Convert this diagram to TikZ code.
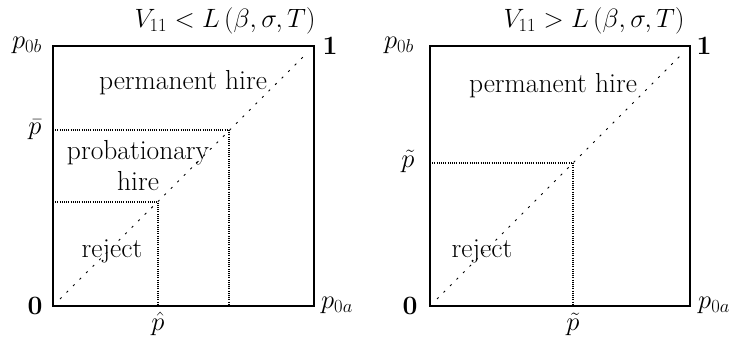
\documentclass[tikz,border=0pt]{standalone}
\usepackage{amsmath}
\usepackage{fix-cm}
\begin{document}
\begin{tikzpicture}[x=1pt,y=-1pt,
  lbl/.style={inner sep=0pt,font=\fontsize{26.5}{31}\selectfont},
  region/.style={inner sep=0pt,align=center,font=\fontsize{27.5}{31}\selectfont},
  frame/.style={line width=1.6pt},
  thr/.style={line width=1.6pt,dash pattern=on 1pt off 1.2pt},
  diag/.style={line width=0.9pt,dash pattern=on 2.2pt off 7pt}]
\useasboundingbox (0,0) rectangle (730,339);
% ---------- left panel ----------
\coordinate (LBL) at (53,306);
\coordinate (LTR) at (314,46);
\coordinate (LD0) at (60,299);
\coordinate (LD1) at (307,53);
\coordinate (Lbar) at (53,130);
\coordinate (Lbarc) at (229,130);
\coordinate (Lbarb) at (229,306);
\coordinate (Lhat) at (53,202);
\coordinate (Lhatc) at (158,202);
\coordinate (Lhatb) at (158,306);
\draw[frame] (LBL) rectangle (LTR);
\draw[diag] (LD0) -- (LD1);
\draw[thr] (Lbar) -- (Lbarc) -- (Lbarb);
\draw[thr] (Lhat) -- (Lhatc) -- (Lhatb);
\node[lbl] (Ltitle) at (225,21) {$V_{11} < L\left(\beta,\sigma,T\right)$};
\node[lbl] (Lp0b) at (27,45) {$p_{0b}$};
\node[lbl] (Lone) at (330,46) {$\mathbf{1}$};
\node[lbl] (Lzero) at (35,306) {$\mathbf{0}$};
\node[lbl] (Lp0a) at (337,305) {$p_{0a}$};
\node[lbl] (Lpbar) at (35,130) {$\bar{p}$};
\node[lbl] (Lphat) at (158,324) {$\hat{p}$};
\node[region] (Lperm) at (183,83) {permanent hire};
\node[region] (Lprob) at (138,166) {probationary\\hire};
\node[region] (Lrej) at (112,251) {reject};
% ---------- right panel ----------
\coordinate (RBL) at (430,306);
\coordinate (RTR) at (690,46);
\coordinate (RD0) at (437,299);
\coordinate (RD1) at (683,53);
\coordinate (Rtil) at (430,163);
\coordinate (Rtilc) at (573,163);
\coordinate (Rtilb) at (573,306);
\draw[frame] (RBL) rectangle (RTR);
\draw[diag] (RD0) -- (RD1);
\draw[thr] (Rtil) -- (Rtilc) -- (Rtilb);
\node[lbl] (Rtitle) at (594,21) {$V_{11} > L\left(\beta,\sigma,T\right)$};
\node[lbl] (Rp0b) at (399,45) {$p_{0b}$};
\node[lbl] (Rone) at (704,46) {$\mathbf{1}$};
\node[lbl] (Rzero) at (410,306) {$\mathbf{0}$};
\node[lbl] (Rp0a) at (714,305) {$p_{0a}$};
\node[lbl] (Rptil) at (408,161) {$\tilde{p}$};
\node[lbl] (Rptilb) at (573,324) {$\tilde{p}$};
\node[region] (Rperm) at (553,86) {permanent hire};
\node[region] (Rrej) at (482,251) {reject};
\end{tikzpicture}
\end{document}
